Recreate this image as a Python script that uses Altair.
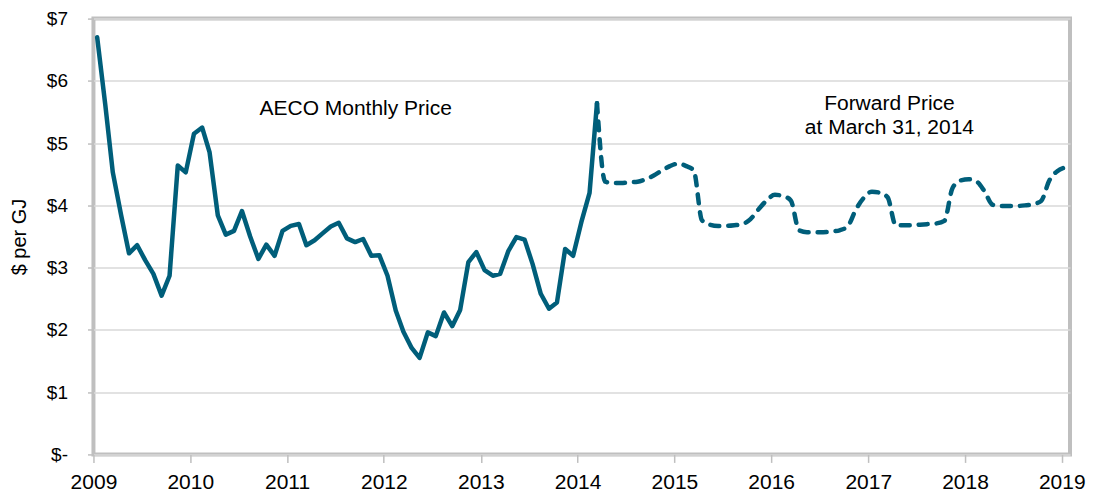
import altair as alt
import pandas as pd

# ---- data ----
hist_start = "2009-01-01"
hist_values = [
    6.70, 5.60, 4.53, 3.85, 3.23, 3.36, 3.12, 2.90, 2.55, 2.87, 4.64, 4.53,   # 2009
    5.15, 5.25, 4.85, 3.84, 3.53, 3.59, 3.91, 3.50, 3.14, 3.37, 3.19, 3.59,   # 2010
    3.67, 3.70, 3.36, 3.44, 3.55, 3.66, 3.72, 3.47, 3.41, 3.46, 3.19, 3.20,   # 2011
    2.87, 2.31, 1.97, 1.71, 1.55, 1.96, 1.90, 2.28, 2.06, 2.32, 3.09, 3.25,   # 2012
    2.96, 2.87, 2.90, 3.27, 3.49, 3.45, 3.06, 2.58, 2.34, 2.44, 3.30, 3.19,   # 2013
    3.73, 4.20, 5.64,                                                         # 2014
]

fwd_start = "2014-03-01"
fwd_values = [
    5.64, 4.38, 4.36, 4.36, 4.37, 4.38, 4.42, 4.48, 4.56, 4.63,               # Mar-Dec 2014
    4.67, 4.63, 4.56, 3.76, 3.69, 3.67, 3.67, 3.68, 3.70, 3.78, 3.94, 4.08,   # 2015
    4.17, 4.15, 4.08, 3.60, 3.57, 3.57, 3.57, 3.58, 3.60, 3.66, 3.93, 4.12,   # 2016
    4.22, 4.20, 4.13, 3.68, 3.68, 3.68, 3.69, 3.70, 3.71, 3.75, 4.28, 4.40,   # 2017
    4.42, 4.38, 4.23, 4.01, 3.99, 3.99, 3.99, 4.00, 4.02, 4.07, 4.40, 4.55,   # 2018
    4.61,                                                                     # Jan 2019
]

annot_texts = ["AECO Monthly Price", "Forward Price", "at March 31, 2014"]
annot_dates = ["2011-09-17", "2017-03-22", "2017-03-22"]
annot_values = [5.55, 5.63, 5.25]

year_ticks = list(range(2009, 2020))
y_ticks = [0, 1, 2, 3, 4, 5, 6, 7]

# ---- build tables ----
def monthly(start, values):
    dates = pd.date_range(start, periods=len(values), freq="MS") + pd.Timedelta(days=14)
    return pd.DataFrame({"date": dates.strftime("%Y-%m-%d"), "price": values})

hist_df = monthly(hist_start, hist_values)
fwd_df = monthly(fwd_start, fwd_values)
annot_df = pd.DataFrame({"text": annot_texts, "date": annot_dates, "price": annot_values})

COLOR = "#005E7A"
FONT = "Liberation Sans"

x_scale = alt.Scale(
    type="utc",
    domain=[alt.DateTime(year=2009, month=1, date=1, utc=True),
            alt.DateTime(year=2019, month=2, date=1, utc=True)],
)
y_scale = alt.Scale(domain=[0, 7], nice=False)

x_axis = alt.Axis(
    values=[alt.DateTime(year=y, month=1, date=1, utc=True) for y in year_ticks],
    format="%Y", title=None, grid=False, domain=False,
    labelFlush=False, labelOverlap=False,
    tickSize=8, tickColor="#bfbfbf", tickWidth=1.5,
    labelFontSize=21, labelFont=FONT, labelColor="#000000", labelPadding=9,
)
y_axis = alt.Axis(
    values=y_ticks, title="$ per GJ",
    labelExpr="datum.value == 0 ? '$-' : '$' + datum.value",
    grid=True, gridColor="#d9d9d9", gridWidth=1.5, domain=False,
    tickSize=6, tickColor="#bfbfbf", tickWidth=1.5,
    labelFontSize=19, labelFont=FONT, labelColor="#000000", labelPadding=20,
    titleFontSize=20, titleFont=FONT, titleFontWeight="normal", titleColor="#000000",
    titleX=-74, titleY=218, titleBaseline="middle",
)

x_enc = alt.X("date:T", scale=x_scale, axis=x_axis)
y_enc = alt.Y("price:Q", scale=y_scale, axis=y_axis)

hist = alt.Chart(hist_df).mark_line(
    color=COLOR, strokeWidth=4.5, strokeJoin="round", strokeCap="round"
).encode(x=x_enc, y=y_enc)

fwd = alt.Chart(fwd_df).mark_line(
    color=COLOR, strokeWidth=4.5, strokeDash=[9, 9], strokeCap="round",
    strokeJoin="round", interpolate="monotone"
).encode(x="date:T", y="price:Q")

labels = alt.Chart(annot_df).mark_text(
    font=FONT, fontSize=21, color="#000000", align="center", baseline="middle"
).encode(x="date:T", y="price:Q", text="text:N")

chart = alt.layer(hist, fwd, labels).properties(
    width=977, height=436,
    autosize=alt.AutoSizeParams(type="none"),
    padding={"left": 85.5, "top": 10.5, "right": 16, "bottom": 40},
).configure_view(
    stroke="#bfbfbf", strokeWidth=4
)

chart.save("out.html", embed_options={"renderer": "svg", "actions": False})
